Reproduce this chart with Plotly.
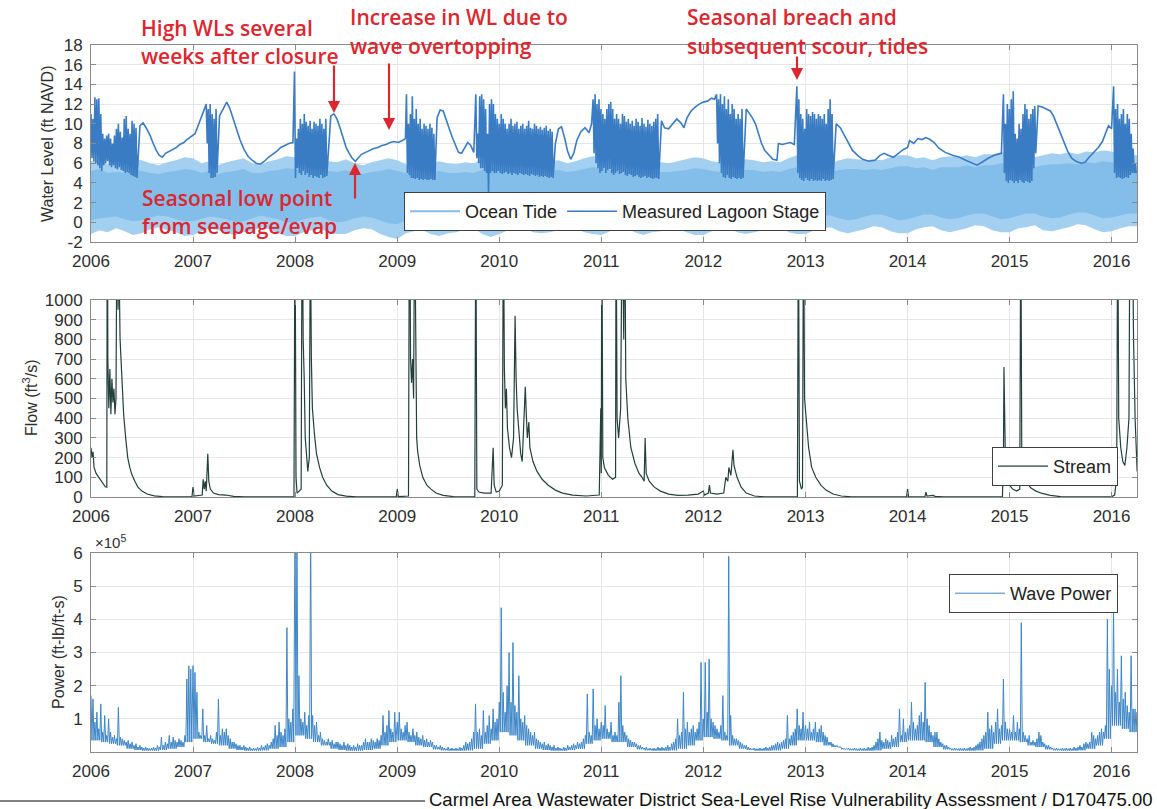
import pandas as pd
import plotly.graph_objects as go

# ---------------------------------------------------------------------------
# Data
# ---------------------------------------------------------------------------
YEARS = list(range(2006, 2017))
YEAR_LABELS = [str(y) for y in YEARS]

# Monthly ocean-tide statistics (ft NAVD), Jan 2006 - Apr 2016
# extreme high / low water of the month
tide_high = [
    6.2, 6.5, 5.9, 6.1, 6.0, 6.4, 6.3, 6.0, 5.8, 6.1, 6.3, 6.6,
    6.5, 6.0, 6.2, 5.8, 6.1, 6.3, 6.5, 6.0, 5.9, 6.2, 6.4, 6.7,
    6.6, 6.2, 6.0, 5.9, 6.2, 6.1, 6.4, 6.0, 5.8, 6.1, 6.3, 6.5,
    6.3, 5.9, 5.7, 5.8, 6.0, 6.2, 6.0, 5.9, 6.1, 6.0, 6.4, 6.6,
    6.9, 6.6, 6.4, 6.1, 6.3, 6.5, 6.2, 6.3, 6.0, 6.2, 6.5, 6.7,
    6.6, 6.3, 6.2, 6.0, 6.3, 6.4, 6.2, 6.1, 6.0, 6.2, 6.4, 6.6,
    6.5, 6.2, 6.1, 5.9, 6.2, 6.4, 6.3, 6.1, 6.2, 6.1, 6.5, 6.8,
    6.7, 6.3, 6.2, 6.0, 6.3, 6.5, 6.4, 6.3, 6.4, 6.3, 6.6, 6.8,
    6.8, 6.5, 6.6, 6.3, 6.6, 6.7, 6.6, 6.8, 6.6, 6.9, 6.9, 7.1,
    7.0, 6.8, 6.9, 6.6, 6.8, 7.0, 6.9, 7.1, 6.9, 7.2, 7.1, 7.3,
    7.2, 7.0, 6.9, 6.8,
]
tide_low = [
    -1.2, -0.8, -1.0, -0.6, -0.9, -1.3, -1.1, -0.7, -0.5, -0.8, -1.0, -1.4,
    -1.3, -0.9, -0.6, -0.8, -1.1, -1.3, -1.0, -0.9, -0.5, -0.7, -1.1, -1.4,
    -1.4, -1.0, -0.8, -0.6, -1.1, -1.2, -1.2, -0.8, -0.6, -0.7, -1.2, -1.5,
    -1.7, -1.1, -0.9, -0.8, -1.2, -1.4, -1.1, -1.0, -0.7, -0.6, -1.2, -1.5,
    -1.2, -0.8, -0.7, -0.5, -1.0, -1.1, -1.0, -0.8, -0.4, -0.6, -1.0, -1.2,
    -1.3, -0.9, -0.7, -0.6, -1.0, -1.3, -1.0, -0.9, -0.5, -0.6, -1.0, -1.3,
    -1.3, -0.9, -0.7, -0.5, -1.0, -1.2, -1.0, -0.8, -0.5, -0.4, -1.0, -1.2,
    -1.2, -0.8, -0.6, -0.5, -0.9, -1.1, -0.9, -0.7, -0.4, -0.5, -0.9, -1.1,
    -1.1, -0.7, -0.5, -0.4, -0.8, -1.0, -0.8, -0.6, -0.3, -0.4, -0.8, -1.0,
    -1.0, -0.6, -0.5, -0.3, -0.8, -0.9, -0.7, -0.5, -0.2, -0.3, -0.7, -1.0,
    -0.9, -0.6, -0.4, -0.4,
]
# mean high / low water of the month
tide_mhw = [
    5.2, 5.4, 5.0, 5.1, 5.0, 5.3, 5.2, 5.0, 4.9, 5.1, 5.2, 5.4,
    5.3, 5.0, 5.2, 4.9, 5.1, 5.2, 5.4, 5.0, 5.0, 5.2, 5.3, 5.5,
    5.4, 5.2, 5.0, 5.0, 5.2, 5.1, 5.3, 5.0, 4.9, 5.1, 5.2, 5.4,
    5.2, 5.0, 4.8, 4.9, 5.0, 5.2, 5.0, 5.0, 5.1, 5.0, 5.3, 5.5,
    5.7, 5.5, 5.3, 5.1, 5.3, 5.4, 5.2, 5.3, 5.1, 5.2, 5.4, 5.6,
    5.5, 5.3, 5.2, 5.0, 5.3, 5.3, 5.2, 5.1, 5.1, 5.2, 5.3, 5.5,
    5.4, 5.2, 5.1, 5.0, 5.2, 5.3, 5.3, 5.1, 5.2, 5.1, 5.4, 5.6,
    5.5, 5.3, 5.2, 5.1, 5.3, 5.4, 5.4, 5.3, 5.4, 5.3, 5.5, 5.7,
    5.7, 5.5, 5.6, 5.3, 5.6, 5.6, 5.6, 5.8, 5.6, 5.8, 5.8, 6.0,
    5.9, 5.8, 5.8, 5.6, 5.8, 5.9, 5.9, 6.0, 5.9, 6.1, 6.0, 6.2,
    6.1, 5.9, 5.8, 5.8,
]
tide_mlw = [
    0.2, 0.4, 0.5, 0.6, 0.3, 0.1, 0.2, 0.5, 0.7, 0.6, 0.3, 0.1,
    0.1, 0.4, 0.6, 0.5, 0.3, 0.0, 0.1, 0.4, 0.7, 0.5, 0.3, 0.0,
    0.0, 0.3, 0.5, 0.6, 0.2, 0.0, 0.1, 0.4, 0.6, 0.5, 0.2, -0.1,
    -0.2, 0.2, 0.4, 0.4, 0.2, -0.1, 0.0, 0.3, 0.5, 0.5, 0.2, -0.1,
    0.2, 0.5, 0.7, 0.6, 0.4, 0.1, 0.2, 0.5, 0.8, 0.7, 0.4, 0.2,
    0.1, 0.4, 0.6, 0.6, 0.3, 0.0, 0.1, 0.4, 0.7, 0.6, 0.3, 0.1,
    0.1, 0.4, 0.6, 0.6, 0.3, 0.1, 0.2, 0.5, 0.7, 0.7, 0.4, 0.1,
    0.2, 0.5, 0.7, 0.7, 0.4, 0.2, 0.3, 0.6, 0.8, 0.8, 0.5, 0.2,
    0.3, 0.6, 0.8, 0.8, 0.5, 0.3, 0.4, 0.7, 0.9, 0.9, 0.6, 0.3,
    0.4, 0.7, 0.9, 0.9, 0.6, 0.4, 0.5, 0.8, 1.0, 1.0, 0.7, 0.4,
    0.5, 0.7, 0.9, 0.9,
]

# Lagoon stage while the mouth is closed: decimal year, ft NAVD
stage_closed_t = [
    2006.48, 2006.51, 2006.54, 2006.58, 2006.61, 2006.64, 2006.67, 2006.70, 2006.73, 2006.77,
    2006.80, 2006.84, 2006.87, 2006.91, 2006.94, 2006.98, 2007.02, 2007.05, 2007.08, 2007.11,
    2007.26, 2007.30, 2007.33, 2007.36, 2007.39, 2007.42, 2007.46, 2007.50, 2007.54, 2007.58,
    2007.62, 2007.66, 2007.70, 2007.74, 2007.78, 2007.82, 2007.86, 2007.90, 2007.94, 2007.98,
    2008.35, 2008.38, 2008.41, 2008.44, 2008.47, 2008.50, 2008.53, 2008.56, 2008.59, 2008.62,
    2008.65, 2008.69, 2008.73, 2008.77, 2008.81, 2008.85, 2008.89, 2008.93, 2008.97, 2009.01,
    2009.05, 2009.08,
    2009.39, 2009.42, 2009.45, 2009.48, 2009.51, 2009.54, 2009.57, 2009.60, 2009.63, 2009.66,
    2009.69, 2009.72, 2009.75,
    2010.55, 2010.58, 2010.61, 2010.64, 2010.67, 2010.70, 2010.73, 2010.76, 2010.80, 2010.84,
    2010.88, 2010.905,
    2011.59, 2011.62, 2011.66, 2011.70, 2011.74, 2011.78, 2011.81, 2011.84, 2011.88, 2011.92,
    2011.96, 2012.00, 2012.04, 2012.08, 2012.11,
    2012.42, 2012.45, 2012.48, 2012.51, 2012.54, 2012.57, 2012.60, 2012.64, 2012.68, 2012.72,
    2012.735, 2012.77, 2012.81, 2012.85, 2012.89,
    2013.30, 2013.34, 2013.38, 2013.42, 2013.46, 2013.51, 2013.56, 2013.62, 2013.68, 2013.73,
    2013.77, 2013.81, 2013.86, 2013.91, 2013.96, 2014.00, 2014.02, 2014.06, 2014.10, 2014.14,
    2014.18, 2014.22, 2014.26, 2014.31, 2014.37, 2014.44, 2014.51, 2014.57, 2014.63, 2014.68,
    2014.73, 2014.79, 2014.85, 2014.92,
    2015.28, 2015.32, 2015.36, 2015.40, 2015.43, 2015.47, 2015.50, 2015.54, 2015.57, 2015.61,
    2015.65, 2015.70, 2015.74, 2015.78, 2015.83, 2015.87, 2015.91, 2015.94, 2015.97, 2016.00,
]
stage_closed_v = [
    9.8, 10.1, 9.6, 8.8, 8.0, 7.3, 6.8, 6.6, 7.0, 7.2,
    7.4, 7.6, 7.9, 8.1, 8.4, 8.7, 9.0, 9.8, 10.6, 11.3,
    10.8, 11.6, 12.2, 11.6, 10.6, 9.5, 8.4, 7.4, 6.7, 6.3,
    6.0, 5.9, 6.2, 6.6, 6.9, 7.2, 7.6, 7.8, 8.0, 8.1,
    10.8, 11.0, 10.5, 9.6, 8.5, 7.6, 7.0, 6.5, 6.2, 6.5,
    6.9, 7.1, 7.3, 7.5, 7.6, 7.8, 7.9, 8.1, 8.2, 8.1,
    8.3, 8.5,
    10.6, 11.4, 11.3, 10.5, 9.5, 8.6, 7.8, 7.1, 7.0, 7.6,
    8.1, 7.8, 7.1,
    8.0, 9.5, 9.7, 8.6, 7.2, 6.4, 7.0, 8.3, 9.2, 9.6,
    9.1, 10.0,
    10.3, 9.6, 9.5, 10.0, 10.5, 10.1, 9.6, 10.6, 11.3, 11.7,
    12.0, 12.2, 12.3, 12.6, 12.5,
    11.5, 11.1, 10.6, 10.0, 8.9, 8.0, 7.3, 6.8, 6.4, 6.3,
    8.0, 7.9, 8.0, 8.1, 7.9,
    10.0, 9.6, 8.8, 8.0, 7.3, 6.8, 6.4, 6.2, 6.3, 6.8,
    7.0, 6.8, 6.6, 7.0, 7.4, 7.6, 8.3, 8.0, 8.5, 8.4,
    8.6, 8.4, 8.1, 7.5, 7.1, 6.8, 6.6, 6.3, 6.0, 5.8,
    6.1, 6.5, 6.8, 7.0,
    11.8, 11.7, 11.5, 11.3, 10.8, 9.8, 9.0, 8.0, 7.2, 6.5,
    6.2, 6.0, 6.1, 6.6, 7.2, 7.6, 8.2, 9.0, 9.8, 9.5,
]

# Lagoon open to the ocean: start (decimal year) and weekly high / low stage
open_starts = [2006.0, 2007.13, 2007.995, 2009.09, 2009.77,
               2010.92, 2012.13, 2012.915, 2014.94, 2016.02]
open_highs = [
    [11.0, 10.5, 12.7, 12.5, 12.6, 11.0, 9.0, 8.5, 8.8, 9.0, 8.5, 8.0,
     8.8, 9.5, 10.0, 9.2, 8.6, 10.5, 10.8, 9.5, 9.0, 10.3, 10.0, 9.6],
    [12.0, 11.5, 12.0, 11.0, 10.5, 11.5],
    [15.3, 8.5, 9.5, 10.5, 10.0, 11.0, 10.2, 9.8, 10.3, 9.5, 10.2, 10.0,
     9.8, 10.5, 10.0, 9.5, 10.5],
    [13.0, 10.0, 11.0, 12.8, 10.5, 11.5, 10.0, 10.5, 9.5, 10.0, 9.8, 9.5,
     10.0, 9.6, 9.0],
    [13.0, 9.0, 12.8, 13.0, 12.5, 11.5, 9.0, 12.0, 12.5, 12.0, 11.0, 10.5,
     10.0, 11.0, 10.5, 10.0, 9.5, 10.0, 10.5, 9.8, 10.0, 10.2, 9.5, 9.8,
     10.0, 9.5, 9.8, 10.3, 9.6, 9.5, 10.0, 9.8, 9.5, 9.7, 9.4, 9.6,
     9.8, 9.3, 9.5, 9.2],
    [12.5, 13.0, 12.0, 12.5, 11.5, 11.0, 10.5, 11.5, 12.0, 12.2, 11.5, 10.5,
     11.0, 10.5, 10.0, 11.0, 10.8, 10.2, 10.5, 10.0, 10.3, 9.8, 10.5, 10.2,
     9.8, 10.6, 10.0, 9.7, 10.4, 10.0, 9.8, 10.2, 10.5, 11.0],
    [13.0, 12.5, 13.0, 12.0, 12.8, 11.5, 12.5, 11.0, 12.0, 11.5, 10.5, 11.0,
     10.5, 11.5],
    [13.8, 12.5, 11.0, 10.5, 9.5, 11.5, 11.0, 10.8, 11.2, 11.0, 10.5, 11.0,
     10.8, 10.5, 11.0, 10.0, 11.5, 12.5, 11.0],
    [13.0, 10.0, 12.0, 11.5, 12.5, 13.3, 9.0, 8.5, 10.0, 9.5, 11.0, 12.0,
     11.5, 10.5, 11.0, 11.5, 11.8],
    [13.8, 11.5, 12.0, 10.5, 11.0, 11.5, 10.0, 11.0, 10.5, 9.0, 7.5, 6.0],
]
open_lows = [
    [6.5, 6.2, 6.0, 5.8, 5.5, 5.2, 5.8, 6.0, 6.2, 5.8, 5.6, 5.8,
     5.5, 5.4, 5.6, 5.3, 5.2, 5.0, 5.1, 5.0, 4.8, 4.7, 4.6, 4.5],
    [8.0, 5.0, 4.5, 4.5, 4.6, 5.0],
    [4.5, 5.5, 5.0, 4.8, 5.2, 4.8, 5.0, 4.6, 4.8, 4.5, 4.7, 4.6,
     4.5, 4.8, 4.5, 4.6, 4.7],
    [5.0, 4.8, 4.5, 4.5, 4.4, 4.5, 4.3, 4.4, 4.3, 4.4, 4.3, 4.3,
     4.4, 4.3, 4.3],
    [6.5, 6.0, 5.5, 5.5, 5.2, 5.0, 2.8, 5.0, 5.2, 5.0, 5.0, 5.2,
     5.0, 4.9, 5.0, 5.1, 4.9, 5.0, 4.8, 5.0, 4.9, 4.8, 5.0, 4.9,
     4.8, 4.9, 4.8, 4.7, 4.9, 4.8, 4.7, 4.8, 4.6, 4.7, 4.6, 4.7,
     4.6, 4.5, 4.6, 4.5],
    [7.0, 6.0, 5.5, 5.0, 5.2, 5.5, 5.0, 5.3, 5.4, 5.0, 4.8, 5.0,
     5.2, 4.9, 5.0, 5.1, 4.8, 4.7, 4.9, 4.8, 4.6, 4.7, 4.8, 4.6,
     4.5, 4.6, 4.7, 4.5, 4.6, 4.5, 4.4, 4.5, 4.5, 4.4],
    [8.0, 6.0, 5.0, 4.6, 4.5, 4.8, 4.5, 4.4, 4.6, 4.5, 4.4, 4.5,
     4.4, 4.5],
    [5.0, 4.5, 4.3, 4.2, 4.5, 4.3, 4.2, 4.4, 4.2, 4.3, 4.2, 4.3,
     4.2, 4.4, 4.2, 4.3, 4.2, 4.3, 4.4],
    [5.0, 4.2, 4.0, 4.3, 4.2, 4.0, 4.2, 4.0, 4.3, 4.1, 4.0, 4.2,
     4.1, 4.0, 4.2, 5.5, 7.0],
    [5.0, 4.5, 4.6, 4.5, 4.4, 4.5, 4.6, 4.5, 4.8, 5.0, 5.0, 5.0],
]

# Carmel River streamflow (ft^3/s): decimal year, flow
flow_t = [
    2006.00, 2006.01, 2006.02, 2006.03, 2006.05, 2006.08, 2006.11, 2006.14, 2006.155, 2006.16,
    2006.165, 2006.175, 2006.185, 2006.195, 2006.205, 2006.215, 2006.225, 2006.235, 2006.245, 2006.255,
    2006.265, 2006.275, 2006.285, 2006.30, 2006.32, 2006.34, 2006.36, 2006.38, 2006.40, 2006.43,
    2006.46, 2006.50, 2006.55, 2006.62, 2006.70, 2006.80, 2006.99,
    2007.00, 2007.01, 2007.09, 2007.10, 2007.11, 2007.12, 2007.13, 2007.145, 2007.155, 2007.17,
    2007.20, 2007.25, 2007.32, 2007.40, 2007.50, 2007.99,
    2008.00, 2008.01, 2008.02, 2008.06, 2008.07, 2008.08, 2008.09, 2008.10, 2008.115, 2008.125,
    2008.14, 2008.15, 2008.16, 2008.17, 2008.19, 2008.21, 2008.24, 2008.27, 2008.31, 2008.36,
    2008.42, 2008.50, 2008.60, 2008.99,
    2009.00, 2009.01, 2009.11, 2009.12, 2009.13, 2009.14, 2009.15, 2009.16, 2009.17, 2009.18,
    2009.19, 2009.20, 2009.22, 2009.25, 2009.29, 2009.33, 2009.38, 2009.45, 2009.55, 2009.76,
    2009.77, 2009.78, 2009.80, 2009.85, 2009.92, 2009.94, 2009.95, 2009.97,
    2010.00, 2010.03, 2010.04, 2010.05, 2010.06, 2010.07, 2010.08, 2010.10, 2010.12, 2010.14,
    2010.155, 2010.165, 2010.175, 2010.19, 2010.21, 2010.225, 2010.24, 2010.255, 2010.265, 2010.275,
    2010.29, 2010.30, 2010.33, 2010.37, 2010.42, 2010.48, 2010.55, 2010.62, 2010.72, 2010.85,
    2010.98, 2010.995,
    2011.00, 2011.005, 2011.015, 2011.03, 2011.07, 2011.11, 2011.14, 2011.145, 2011.155, 2011.17,
    2011.19, 2011.205, 2011.22, 2011.23, 2011.24, 2011.26, 2011.29, 2011.33, 2011.37, 2011.40,
    2011.42, 2011.43, 2011.44, 2011.47, 2011.52, 2011.58, 2011.66, 2011.75, 2011.85, 2011.95,
    2012.00, 2012.01, 2012.05, 2012.06, 2012.07, 2012.13, 2012.20, 2012.22, 2012.24, 2012.25,
    2012.27, 2012.29, 2012.30, 2012.33, 2012.37, 2012.42, 2012.50, 2012.60, 2012.92, 2012.93,
    2012.94, 2012.96, 2012.97, 2012.98, 2012.99,
    2013.01, 2013.03, 2013.06, 2013.10, 2013.15, 2013.20, 2013.27, 2013.35, 2013.45, 2013.99,
    2014.00, 2014.01, 2014.17, 2014.18, 2014.19, 2014.25, 2014.27, 2014.35, 2014.93, 2014.94,
    2014.945, 2014.95, 2014.96, 2014.98,
    2015.00, 2015.03, 2015.07, 2015.10, 2015.11, 2015.12, 2015.14, 2015.17, 2015.21, 2015.26,
    2015.32, 2015.40, 2015.50, 2015.80,
    2016.00, 2016.03, 2016.05, 2016.06, 2016.07, 2016.09, 2016.11, 2016.13, 2016.15, 2016.17,
    2016.18, 2016.19, 2016.20, 2016.215, 2016.23, 2016.25,
]
flow_v = [
    250, 200, 230, 150, 120, 95, 70, 52, 50, 1800,
    700, 450, 650, 420, 600, 480, 550, 420, 500, 1500,
    950, 1200, 800, 600, 420, 300, 200, 150, 115, 80,
    50, 30, 15, 6, 2, 1, 1,
    50, 5, 10, 90, 40, 80, 30, 220, 80, 40,
    20, 12, 10, 3, 1, 1,
    1500, 100, 20, 40, 1600, 800, 600, 300, 200, 130,
    200, 1400, 700, 450, 320, 220, 150, 100, 60, 30,
    12, 4, 1, 1,
    40, 2, 5, 1800, 700, 580, 700, 500, 1500, 600,
    300, 230, 160, 100, 60, 40, 20, 8, 2, 1,
    1500, 40, 25, 20, 20, 250, 60, 25,
    30, 60, 1500, 650, 450, 550, 350, 250, 200, 300,
    920, 600, 450, 350, 220, 180, 350, 560, 420, 300,
    380, 250, 180, 130, 90, 60, 35, 20, 10, 5,
    10, 450,
    120, 1500, 200, 150, 110, 90, 100, 1500, 400, 300,
    450, 1500, 800, 1500, 600, 400, 250, 170, 120, 100,
    80, 300, 120, 80, 50, 30, 15, 8, 10, 15,
    30, 10, 20, 60, 20, 15, 20, 100, 80, 150,
    110, 240, 160, 100, 50, 20, 5, 1, 1, 1500,
    80, 40, 50, 1500, 500,
    350, 250, 150, 100, 60, 35, 15, 5, 1, 1,
    40, 1, 2, 25, 5, 8, 3, 1, 1, 200,
    660, 360, 150, 90,
    60, 40, 30, 40, 1500, 150, 100, 70, 45, 30,
    18, 8, 2, 1,
    1, 10, 100, 1500, 400, 250, 180, 160, 250, 400,
    1500, 1200, 1600, 800, 400, 130,
]

# Weekly peak wave power (x10^5 ft-lb/ft-s), one list per year
wave_2006 = [1.7, 1.6, 0.9, 1.2, 0.7, 1.45, 0.6, 1.1, 0.5, 1.0, 0.6, 0.45, 0.5, 0.4, 1.35, 0.45,
             0.4, 0.35, 0.3, 0.35, 0.25, 0.3, 0.2, 0.25, 0.15, 0.2, 0.15, 0.12, 0.15, 0.12, 0.1, 0.12,
             0.15, 0.12, 0.2, 0.15, 0.45, 0.2, 0.3, 0.25, 0.5, 0.3, 0.45, 0.35, 0.3, 0.4, 0.35, 0.3,
             0.5, 2.2, 2.6, 2.5]
wave_2007 = [2.6, 2.4, 1.8, 0.6, 0.5, 1.3, 0.5, 0.8, 0.4, 0.5, 0.4, 0.35, 0.6, 1.6, 0.5, 0.7,
             0.6, 0.7, 0.5, 0.4, 0.3, 0.3, 0.25, 0.2, 0.2, 0.15, 0.2, 0.15, 0.12, 0.15, 0.1, 0.12,
             0.1, 0.15, 0.12, 0.2, 0.15, 0.2, 0.25, 0.2, 0.3, 0.4, 0.8, 0.5, 0.9, 0.6, 0.5, 0.7,
             3.75, 1.0, 0.9, 1.3]
wave_2008 = [7.0, 7.0, 2.3, 1.0, 0.9, 1.2, 0.8, 1.1, 7.0, 1.1, 0.8, 0.9, 0.5, 0.6, 0.4, 0.35,
             0.3, 0.4, 0.3, 0.35, 0.25, 0.3, 0.3, 0.25, 0.2, 0.3, 0.2, 0.25, 0.2, 0.15, 0.2, 0.15,
             0.25, 0.2, 0.2, 0.3, 0.4, 0.3, 0.3, 0.4, 0.35, 0.3, 0.4, 0.35, 0.5, 1.1, 0.6, 0.8,
             1.25, 0.7, 0.6, 1.2]
wave_2009 = [0.9, 1.2, 0.7, 0.6, 0.8, 0.9, 0.6, 0.5, 0.7, 0.5, 0.6, 0.45, 0.4, 0.5, 0.35, 0.4,
             0.3, 0.35, 0.3, 0.2, 0.2, 0.15, 0.2, 0.15, 0.12, 0.1, 0.15, 0.1, 0.12, 0.1, 0.12, 0.1,
             0.15, 0.12, 0.2, 0.3, 0.25, 0.3, 0.4, 0.6, 1.45, 0.6, 0.7, 0.5, 1.25, 0.6, 0.8, 1.1,
             0.7, 1.3, 0.9, 1.0]
wave_2010 = [1.5, 4.35, 1.8, 1.2, 2.0, 3.0, 1.5, 3.3, 1.4, 1.2, 2.3, 1.0, 0.9, 1.1, 0.8, 0.7,
             0.6, 0.5, 0.6, 0.4, 0.35, 0.3, 0.25, 0.3, 0.2, 0.25, 0.2, 0.15, 0.2, 0.12, 0.15, 0.12,
             0.1, 0.15, 0.12, 0.2, 0.15, 0.2, 0.25, 0.2, 0.3, 0.25, 0.3, 0.4, 0.5, 1.75, 0.6, 0.5,
             1.9, 0.8, 1.0, 0.7]
wave_2011 = [0.9, 0.8, 1.4, 0.7, 0.6, 0.9, 0.5, 0.6, 0.5, 1.5, 2.3, 0.8, 0.6, 0.5, 0.4, 0.35,
             0.3, 0.3, 0.25, 0.2, 0.2, 0.15, 0.12, 0.15, 0.1, 0.12, 0.1, 0.12, 0.1, 0.15, 0.12, 0.15,
             0.12, 0.15, 0.2, 0.15, 0.25, 0.3, 0.4, 1.0, 0.5, 0.6, 1.8, 0.7, 0.9, 0.6, 0.7, 0.8,
             0.6, 0.7, 0.9, 2.7]
wave_2012 = [1.0, 2.7, 1.2, 2.8, 1.0, 0.9, 0.8, 0.7, 0.6, 0.8, 1.7, 0.6, 0.5, 5.9, 1.1, 0.5,
             0.4, 0.4, 0.35, 0.3, 0.25, 0.2, 0.2, 0.15, 0.12, 0.1, 0.12, 0.1, 0.1, 0.12, 0.1, 0.12,
             0.15, 0.12, 0.15, 0.2, 0.2, 0.25, 0.3, 0.25, 0.3, 0.35, 0.4, 1.1, 0.4, 0.5, 0.6, 0.7,
             1.3, 0.8, 0.7, 1.2]
wave_2013 = [0.8, 0.7, 0.9, 0.6, 0.7, 0.9, 0.6, 0.7, 0.8, 0.6, 0.5, 0.45, 0.3, 0.3, 0.25, 0.2,
             0.2, 0.15, 0.15, 0.12, 0.1, 0.1, 0.12, 0.1, 0.1, 0.12, 0.1, 0.1, 0.12, 0.1, 0.12, 0.1,
             0.15, 0.12, 0.15, 0.2, 0.3, 0.4, 0.6, 0.35, 0.3, 0.4, 0.35, 0.3, 0.5, 0.4, 0.45, 0.6,
             1.3, 0.5, 1.0, 0.6]
wave_2014 = [0.7, 0.8, 1.5, 0.9, 0.7, 0.8, 1.1, 1.2, 0.9, 2.1, 1.0, 0.8, 0.6, 0.5, 0.6, 0.6,
             0.4, 0.3, 0.25, 0.2, 0.2, 0.15, 0.12, 0.1, 0.12, 0.1, 0.1, 0.12, 0.1, 0.12, 0.1, 0.12,
             0.15, 0.12, 0.15, 0.2, 0.25, 0.3, 0.4, 0.5, 0.6, 1.2, 0.7, 0.8, 0.6, 0.9, 1.3, 0.7,
             0.8, 2.2, 0.9, 0.7]
wave_2015 = [0.7, 0.6, 1.1, 0.6, 0.9, 0.7, 3.9, 0.6, 0.5, 0.4, 0.5, 0.3, 0.35, 0.3, 0.4, 0.6,
             0.5, 0.3, 0.25, 0.2, 0.2, 0.15, 0.12, 0.1, 0.12, 0.1, 0.1, 0.12, 0.1, 0.12, 0.1, 0.12,
             0.1, 0.15, 0.12, 0.15, 0.2, 0.15, 0.25, 0.3, 0.25, 0.3, 0.6, 0.5, 0.4, 0.5, 0.6, 0.7,
             0.6, 0.8, 4.0, 2.5]
wave_2016 = [2.0, 4.4, 1.8, 2.5, 1.5, 2.9, 1.6, 1.8, 1.4, 1.2, 2.9, 1.3, 1.3, 1.2]

# Monthly background wave power between storm peaks (x10^5)
wave_floor = [
    0.35, 0.3, 0.25, 0.2, 0.1, 0.06, 0.04, 0.04, 0.06, 0.1, 0.15, 0.3,
    0.4, 0.3, 0.25, 0.2, 0.1, 0.06, 0.04, 0.04, 0.05, 0.1, 0.15, 0.3,
    0.5, 0.4, 0.3, 0.2, 0.1, 0.06, 0.04, 0.04, 0.06, 0.1, 0.2, 0.3,
    0.35, 0.3, 0.2, 0.15, 0.08, 0.05, 0.04, 0.04, 0.05, 0.1, 0.25, 0.35,
    0.6, 0.5, 0.35, 0.2, 0.1, 0.06, 0.04, 0.04, 0.06, 0.1, 0.25, 0.35,
    0.4, 0.3, 0.3, 0.15, 0.08, 0.05, 0.04, 0.04, 0.05, 0.1, 0.2, 0.35,
    0.45, 0.4, 0.35, 0.2, 0.1, 0.06, 0.04, 0.04, 0.05, 0.1, 0.2, 0.35,
    0.35, 0.3, 0.2, 0.15, 0.08, 0.05, 0.04, 0.04, 0.05, 0.1, 0.15, 0.3,
    0.35, 0.35, 0.3, 0.15, 0.08, 0.05, 0.04, 0.04, 0.05, 0.1, 0.25, 0.35,
    0.35, 0.3, 0.2, 0.15, 0.08, 0.05, 0.04, 0.04, 0.05, 0.1, 0.2, 0.4,
    0.8, 0.7, 0.6, 0.4,
]

# ---------------------------------------------------------------------------
# Helpers
# ---------------------------------------------------------------------------
def dec_to_date(t):
    y = int(t)
    start = pd.Timestamp(y, 1, 1)
    end = pd.Timestamp(y + 1, 1, 1)
    return start + (end - start) * (t - y)


tide_dates = pd.date_range("2006-01-01", periods=len(tide_high), freq="MS")

# lagoon stage: closed-mouth trend plus tidal swings while open
stage_pts = [(dec_to_date(t), v) for t, v in zip(stage_closed_t, stage_closed_v)]
for s, hi, lo in zip(open_starts, open_highs, open_lows):
    d0 = dec_to_date(s)
    for k, (h, l) in enumerate(zip(hi, lo)):
        stage_pts.append((d0 + pd.Timedelta(days=7 * k), h))
        stage_pts.append((d0 + pd.Timedelta(days=7 * k + 3.5), l))
stage_pts.sort(key=lambda p: p[0])
stage_x = [p[0] for p in stage_pts]
stage_y = [p[1] for p in stage_pts]

flow_x = [dec_to_date(t) for t in flow_t]

wave_by_year = {2006: wave_2006, 2007: wave_2007, 2008: wave_2008, 2009: wave_2009,
                2010: wave_2010, 2011: wave_2011, 2012: wave_2012, 2013: wave_2013,
                2014: wave_2014, 2015: wave_2015, 2016: wave_2016}
wave_x, wave_y = [], []
for yr, peaks in wave_by_year.items():
    for i, v in enumerate(peaks):
        d = pd.Timestamp(yr, 1, 1) + pd.Timedelta(days=7 * i)
        m = (d.year - 2006) * 12 + d.month - 1
        wave_x += [d, d + pd.Timedelta(days=3.5)]
        wave_y += [v, wave_floor[min(m, len(wave_floor) - 1)]]

# ---------------------------------------------------------------------------
# Figure
# ---------------------------------------------------------------------------
W, H = 1157, 809
X0, X1 = 91 / W, 1137 / W


def ydom(top_px, bot_px):
    return [1 - bot_px / H, 1 - top_px / H]


TIDE_C = "#82bee9"
TIDE_FRINGE = "#a3cff0"
STAGE_C = "#3a7cc3"
FLOW_C = "#24403b"
WAVE_C = "#3d86c8"
RED = "#dc2630"
FONT = "Liberation Sans, Arial, sans-serif"

fig = go.Figure()

# panel 1 - water level: tidal range (extremes lighter, mean range darker)
fig.add_trace(go.Scatter(x=tide_dates, y=tide_low, mode="lines", line=dict(width=0, color=TIDE_FRINGE),
                         showlegend=False, hoverinfo="skip", xaxis="x", yaxis="y"))
fig.add_trace(go.Scatter(x=tide_dates, y=tide_high, mode="lines", line=dict(width=0, color=TIDE_FRINGE),
                         fill="tonexty", fillcolor=TIDE_FRINGE, showlegend=False, xaxis="x", yaxis="y"))
fig.add_trace(go.Scatter(x=tide_dates, y=tide_mlw, mode="lines", line=dict(width=0, color=TIDE_C),
                         showlegend=False, hoverinfo="skip", xaxis="x", yaxis="y"))
fig.add_trace(go.Scatter(x=tide_dates, y=tide_mhw, mode="lines", line=dict(width=0, color=TIDE_C),
                         fill="tonexty", fillcolor=TIDE_C, showlegend=False, xaxis="x", yaxis="y"))
fig.add_trace(go.Scatter(x=[None], y=[None], mode="lines", name="Ocean Tide",
                         line=dict(color=TIDE_C, width=2), legend="legend", xaxis="x", yaxis="y"))
fig.add_trace(go.Scatter(x=stage_x, y=stage_y, mode="lines", name="Measured Lagoon Stage",
                         line=dict(color=STAGE_C, width=1.6), legend="legend", xaxis="x", yaxis="y"))

# panel 2 - stream flow
fig.add_trace(go.Scatter(x=flow_x, y=flow_v, mode="lines", name="Stream",
                         line=dict(color=FLOW_C, width=1.2), legend="legend2", xaxis="x2", yaxis="y2"))

# panel 3 - wave power
fig.add_trace(go.Scatter(x=wave_x, y=wave_y, mode="lines", name="Wave Power",
                         line=dict(color=WAVE_C, width=1), legend="legend3", xaxis="x3", yaxis="y3"))

x_range = ["2006-01-01", "2016-04-01"]
tickvals = [f"{y}-01-01" for y in YEARS]
axis_common = dict(showline=True, linecolor="#8a8a8a", linewidth=1, mirror="allticks",
                   ticks="inside", ticklen=5, tickcolor="#8a8a8a", showgrid=True,
                   gridcolor="#e6e6e6", zeroline=False, automargin=False,
                   tickfont=dict(family=FONT, size=17, color="#2e2e2e"))

doms = {1: ydom(45, 242), 2: ydom(300, 497), 3: ydom(553, 752)}
for i in (1, 2, 3):
    sx = "" if i == 1 else str(i)
    fig.update_layout(**{
        f"xaxis{sx}": dict(domain=[X0, X1], anchor=f"y{sx}", range=x_range, type="date",
                           tickvals=tickvals, ticktext=YEAR_LABELS, ticklabelstandoff=4, **axis_common),
    })

fig.update_layout(
    yaxis=dict(domain=doms[1], anchor="x", range=[-2, 18], tickvals=list(range(-2, 19, 2)),
               ticktext=[str(v) for v in range(-2, 19, 2)], ticklabelstandoff=4, **axis_common),
    yaxis2=dict(domain=doms[2], anchor="x2", range=[0, 1000], tickvals=list(range(0, 1001, 100)),
                ticktext=[str(v) for v in range(0, 1001, 100)], ticklabelstandoff=4, **axis_common),
    yaxis3=dict(domain=doms[3], anchor="x3", range=[0, 6], tickvals=[1, 2, 3, 4, 5, 6],
                ticktext=["1", "2", "3", "4", "5", "6"], ticklabelstandoff=4, **axis_common),
)

legend_style = dict(bgcolor="white", bordercolor="#404040", borderwidth=1,
                    font=dict(family=FONT, size=18, color="#222"), xref="paper", yref="paper",
                    itemwidth=50)
fig.update_layout(
    legend=dict(x=615 / W, xanchor="center", y=1 - 192 / H, yanchor="top", orientation="h",
                traceorder="normal", **legend_style),
    legend2=dict(x=1118 / W, xanchor="right", y=1 - 447 / H, yanchor="top", **legend_style),
    legend3=dict(x=1118 / W, xanchor="right", y=1 - 574 / H, yanchor="top", **legend_style),
)

annotations = []
# y-axis titles
for text, xc, yc in [("Water Level (ft NAVD)", 47, 144), ("Flow (ft<sup>3</sup>/s)", 30, 398),
                     ("Power (ft-lb/ft-s)", 58, 652)]:
    annotations.append(dict(text=text, x=xc / W, y=1 - yc / H, xref="paper", yref="paper",
                            textangle=-90, showarrow=False, xanchor="center", yanchor="middle",
                            font=dict(family=FONT, size=16, color="#2e2e2e")))
annotations.append(dict(text="\u00d710<sup>5</sup>", x=93 / W, y=1 - 541 / H, xref="paper", yref="paper",
                        showarrow=False, xanchor="left", yanchor="middle",
                        font=dict(family=FONT, size=15, color="#2e2e2e")))

# callouts, one line each
red_font = dict(family="Open Sans, Lato, sans-serif", size=21, color=RED, weight=600)
for text, xl, yc in [("High WLs several", 139, 28), ("weeks after closure", 139, 56),
                     ("Increase in WL due to", 348, 17), ("wave overtopping", 348, 46),
                     ("Seasonal breach and", 685, 17), ("subsequent scour, tides", 685, 46),
                     ("Seasonal low point", 140, 198), ("from seepage/evap", 140, 226)]:
    annotations.append(dict(text=text, x=xl / W, y=1 - yc / H, xref="paper", yref="paper",
                            showarrow=False, xanchor="left", yanchor="middle", align="left",
                            font=red_font))
for hx, hy, tx, ty in [(334, 113, 334, 64), (389, 130, 389, 62), (797, 80, 797, 55),
                       (355, 163, 355, 200)]:
    annotations.append(dict(x=hx / W, y=1 - hy / H, xref="paper", yref="paper", text="",
                            showarrow=True, arrowhead=2, arrowsize=1.1, arrowwidth=2.2,
                            arrowcolor=RED, ax=tx - hx, ay=ty - hy))

# footer
annotations.append(dict(text="Carmel Area Wastewater District Sea-Level Rise Vulnerability Assessment / D170475.00",
                        x=1155 / W, y=1 - 799 / H, xref="paper", yref="paper", showarrow=False,
                        xanchor="right", yanchor="middle",
                        font=dict(family=FONT, size=18.5, color="#111")))

fig.update_layout(
    width=W, height=H, margin=dict(l=0, r=0, t=0, b=0),
    paper_bgcolor="white", plot_bgcolor="white",
    annotations=annotations,
    shapes=[dict(type="line", xref="paper", yref="paper", x0=0, x1=425 / W,
                 y0=1 - 801 / H, y1=1 - 801 / H, line=dict(color="#808080", width=2))],
)

fig.write_html("out.html")
